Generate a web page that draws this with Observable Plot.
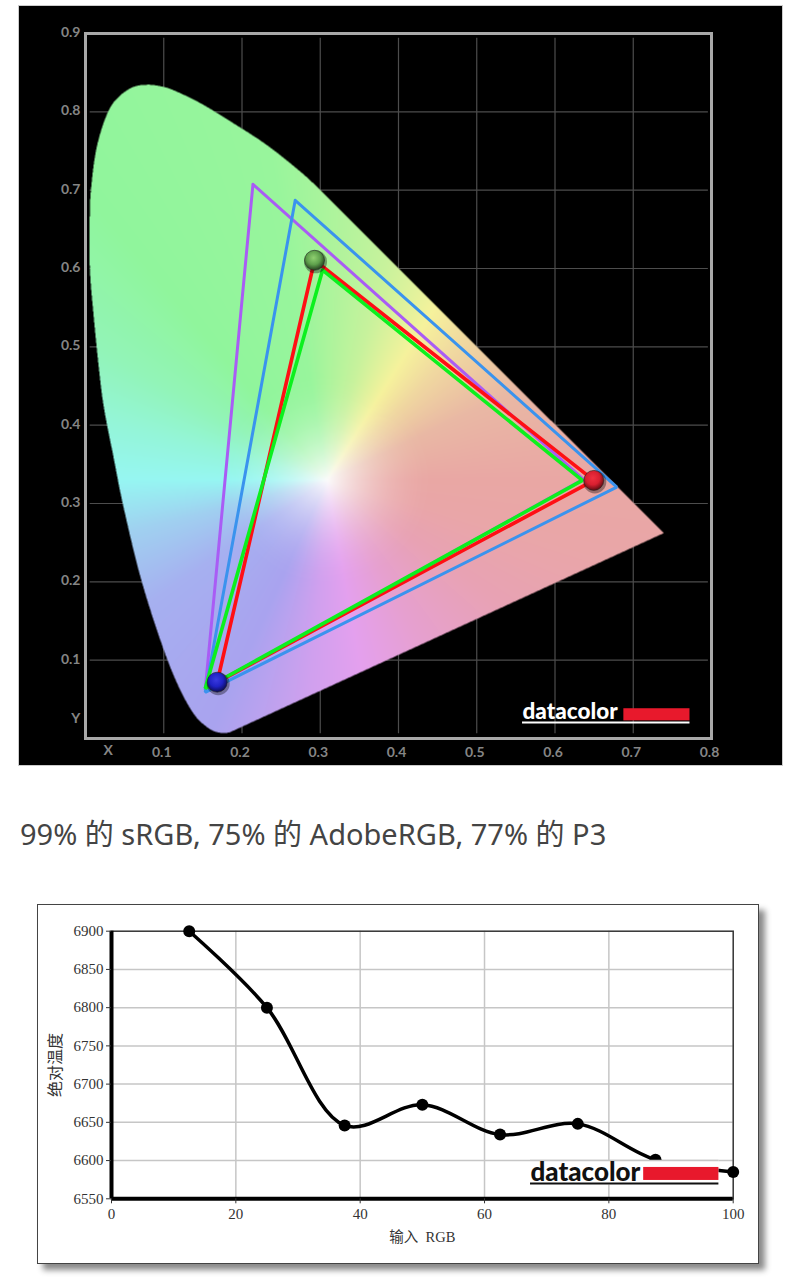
<!DOCTYPE html>
<html><head><meta charset="utf-8">
<script src="https://cdn.jsdelivr.net/npm/d3@7"></script>
<script src="https://cdn.jsdelivr.net/npm/@observablehq/plot@0.6"></script>
<style>
html,body{margin:0;padding:0;background:#fff}
#page{position:relative;width:800px;height:1283px;overflow:hidden}
#panel{position:absolute;left:19px;top:6px;width:763px;height:759px;background:#000;outline:1px solid #ccc}
#panel svg{position:absolute;left:0;top:0;max-width:none}
#caption{position:absolute;left:20px;top:814px;font:29px "Noto Sans","Noto Sans CJK SC",sans-serif;color:#444;white-space:nowrap;line-height:40px}
#card{position:absolute;left:37px;top:904px;width:722px;height:360px;box-sizing:border-box;background:#fff;border:1px solid #444;box-shadow:6px 6px 6px #8a8a8a}
#card svg{position:absolute;left:-1px;top:-1px;max-width:none}
</style></head>
<body><div id="page">
<div id="panel"></div>
<div id="caption">99% 的 sRGB, 75% 的 AdobeRGB, 77% 的 P3</div>
<div id="card"></div>
</div>
<script>
// CIE diagram outline (x, y chromaticity): curved part, then the two straight edges close it
const locusX = [0.3323,0.3003,0.2748,0.2322,0.1891,0.1470,0.1125,0.0958,0.0792,0.0613,0.0447,0.0319,0.0213,0.0128,0.0073,0.0055,0.0055,0.0106,0.0170,0.0234,0.0358,0.0486,0.0703,0.0958,0.1172,0.1380,0.1555,0.1683,0.1811,0.1875];
const locusY = [0.6679,0.6999,0.7235,0.7573,0.7854,0.8110,0.8276,0.8327,0.8346,0.8318,0.8212,0.8059,0.7803,0.7471,0.7037,0.6705,0.6015,0.5377,0.4738,0.4231,0.3593,0.2954,0.2060,0.1252,0.0702,0.0319,0.0144,0.0080,0.0073,0.0093];
const cornerX = 0.7390, cornerY = 0.2622;
const whiteX = 0.309, whiteY = 0.33;
const hueAngles = [0,25,45,58,75,100,130,150,165,180,195,215,245,265,280,300,325,345,360];
const hueColors = ["#e9a7a4","#e9b8a4","#f0d8a0","#f6f29c","#c8f29c","#98f59c","#90f59c","#92f4b8","#94f5d8","#96f6f2","#a0d0f0","#a6b0f0","#a9a3ef","#d0a0ee","#e4a0ee","#e6a0d0","#e8a2b4","#e9a6a8","#e9a7a4"];

const adobeX = [0.214,0.153,0.636], adobeY = [0.7075,0.0620,0.3310];
const p3X = [0.268,0.153,0.679], p3Y = [0.687,0.0590,0.321];
const srgbX = [0.303,0.153,0.635], srgbY = [0.598,0.0638,0.3295];
const measX = [0.2927,0.1683,0.6496], measY = [0.6105,0.0719,0.3295];

const cieTicksX = [0.1,0.2,0.3,0.4,0.5,0.6,0.7,0.8];
const cieTicksY = [0.1,0.2,0.3,0.4,0.5,0.6,0.7,0.8,0.9];
const gridX = [0.1,0.2,0.3,0.4,0.5,0.6,0.7];
const gridY = [0.1,0.2,0.3,0.4,0.5,0.6,0.7,0.8];

// Colour-temperature series
const inputRGB = [12.5,25,37.5,50,62.5,75,87.5,100];
const kelvin = [6900,6800,6646,6673,6634,6648,6601,6585];
const cctTicksX = [0,20,40,60,80,100];
const cctTicksY = [6550,6600,6650,6700,6750,6800,6850,6900];

// Smooth outline for the clip test only (Catmull-Rom through the read points)
function smooth(xs,ys,steps){
  const out=[], n=xs.length, at=(a,i)=>a[Math.max(0,Math.min(n-1,i))];
  for(let i=0;i<n-1;i++)for(let s=0;s<steps;s++){
    const t=s/steps, cr=(a)=>{const p0=at(a,i-1),p1=at(a,i),p2=at(a,i+1),p3=at(a,i+2);
      return 0.5*(2*p1+(p2-p0)*t+(2*p0-5*p1+4*p2-p3)*t*t+(3*p1-p0-3*p2+p3)*t*t*t);};
    out.push([cr(xs),cr(ys)]);
  }
  out.push([xs[n-1],ys[n-1]]);
  return out;
}
const polygon = [...smooth(locusX,locusY,8),[cornerX,cornerY]];
const hueColor = d3.scaleLinear().domain(hueAngles).range(hueColors).interpolate(d3.interpolateRgb);
function chroma(x,y){
  if(x<0||y<0||!d3.polygonContains(polygon,[x,y])) return null;
  const dx=x-whiteX, dy=y-whiteY;
  let a=Math.atan2(dy,dx)*180/Math.PI; if(a<0)a+=360;
  const r=Math.hypot(dx,dy);
  let t=Math.min(1,r/0.14); t=t*(2-t);
  return d3.interpolateRgb("#fbfbfb",hueColor(a))(t);
}
const tri=(X,Y)=>[...X,X[0]].map((x,i)=>({x,y:[...Y,Y[0]][i]}));
const sphere=(id,hi,mid,lo)=>`<radialGradient id="${id}" cx="45%" cy="38%" r="62%"><stop offset="0%" stop-color="${hi}"/><stop offset="55%" stop-color="${mid}"/><stop offset="100%" stop-color="${lo}"/></radialGradient>`;
const defsMark=()=>{const d=document.createElementNS("http://www.w3.org/2000/svg","defs");
  d.innerHTML=sphere("sg","#8fd070","#5ea04c","#24401f")+sphere("sb","#3a3ae0","#1f22c4","#0c0c50")+sphere("sr","#f0303f","#d81f30","#5e0c12");return d;};
const spheres=[{x:measX[0],y:measY[0],f:"url(#sg)"},{x:measX[1],y:measY[1],f:"url(#sb)"},{x:measX[2],y:measY[2],f:"url(#sr)"}];
const tickStyle={tickSize:0,tickFormat:".1f",fontSize:14,fontWeight:"bold",color:"#858585",label:null};

const cie=Plot.plot({
  width:763,height:759,marginLeft:66,marginRight:71,marginTop:27,marginBottom:27,
  x:{domain:[0,0.8],label:null},y:{domain:[0,0.9],label:null},
  color:{type:"identity"},
  style:{background:"#000",fontFamily:"Lato,sans-serif"},
  marks:[
    defsMark,
    Plot.ruleX(gridX,{y1:0.006,y2:0.894,stroke:"#4d4d4d",strokeWidth:1.2}),
    Plot.ruleY(gridY,{x1:0.006,x2:0.796,stroke:"#4d4d4d",strokeWidth:1.2}),
    Plot.raster({fill:chroma,x1:0,x2:0.8,y1:0,y2:0.9,pixelSize:0.5}),
    Plot.frame({stroke:"#a8a8a8",strokeWidth:3}),
    Plot.line(tri(adobeX,adobeY),{x:"x",y:"y",stroke:"#a95cf5",strokeWidth:3,strokeLinejoin:"miter"}),
    Plot.line(tri(p3X,p3Y),{x:"x",y:"y",stroke:"#3a93ee",strokeWidth:3,strokeLinejoin:"miter"}),
    Plot.line(tri(measX,measY),{x:"x",y:"y",stroke:"#ff0f14",strokeWidth:3.6,strokeLinejoin:"miter"}),
    Plot.line(tri(srgbX,srgbY),{x:"x",y:"y",stroke:"#0cf01e",strokeWidth:3.6,strokeLinejoin:"miter"}),
    Plot.dot(spheres,{x:"x",y:"y",dx:1,dy:1.5,r:11.5,fill:"#000",fillOpacity:0.35}),
    Plot.dot(spheres,{x:"x",y:"y",r:10,fill:"f",stroke:"#222",strokeOpacity:0.55,strokeWidth:1}),
    Plot.axisX({...tickStyle,ticks:cieTicksX,tickPadding:6,dx:-2,dy:3}),
    Plot.axisY({...tickStyle,ticks:cieTicksY,tickPadding:5,dy:-1}),
    Plot.text(["X"],{x:0.029,y:0,dy:12,fontSize:14,fontWeight:"bold",fill:"#858585"}),
    Plot.text(["Y"],{x:-0.0125,y:0.0255,fontSize:14,fontWeight:"bold",fill:"#858585"}),
    Plot.text(["datacolor"],{x:0.5585,y:0.0335,textAnchor:"start",fontSize:22.5,fontWeight:900,fontFamily:"Lato,sans-serif",fill:"#fff"}),
    Plot.rect([0],{x1:0.688,x2:0.7725,y1:0.0225,y2:0.038,fill:"#e8192c"}),
    Plot.ruleY([0.0205],{x1:0.5585,x2:0.7725,stroke:"#fff",strokeWidth:2})
  ]
});
document.getElementById("panel").append(cie);

const mixed='"Liberation Serif","Noto Sans CJK SC",serif';
const rows=inputRGB.map((x,i)=>({x,y:kelvin[i]}));
const cct=Plot.plot({
  width:722,height:360,marginLeft:74,marginRight:26.3,marginTop:26.7,marginBottom:65.7,
  x:{domain:[0,100],label:null},y:{domain:[6550,6900],label:null},
  style:{background:"transparent",fontFamily:mixed},
  marks:[
    Plot.ruleX(cctTicksX.slice(1,-1),{stroke:"#c6c6c6",strokeWidth:1.5}),
    Plot.ruleY(cctTicksY.slice(1,-1),{stroke:"#c6c6c6",strokeWidth:1.5}),
    Plot.frame({stroke:"#333",strokeWidth:1.5}),
    Plot.ruleX([0],{stroke:"#000",strokeWidth:4}),
    Plot.ruleY([6550],{stroke:"#000",strokeWidth:4}),
    Plot.line(rows,{x:"x",y:"y",curve:"catmull-rom",stroke:"#000",strokeWidth:3.5}),
    Plot.dot(rows,{x:"x",y:"y",r:6,fill:"#000"}),
    Plot.rect([0],{x1:67.4,x2:97.7,y1:6568,y2:6600,fill:"#fff"}),
    Plot.ruleY([6600],{x1:67.4,x2:97.7,stroke:"#c6c6c6",strokeWidth:1.5}),
    Plot.text(["datacolor"],{x:67.4,y:6584,textAnchor:"start",fontSize:26,fontWeight:900,fontFamily:"Lato,sans-serif",fill:"#111"}),
    Plot.rect([0],{x1:85.6,x2:97.7,y1:6574,y2:6591,fill:"#e8192c"}),
    Plot.ruleY([6570],{x1:67.4,x2:97.7,stroke:"#111",strokeWidth:2}),
    Plot.axisX({ticks:cctTicksX,tickSize:5,tickPadding:5,tickFormat:"d",fontSize:15,color:"#333",label:null}),
    Plot.axisY({ticks:cctTicksY,tickSize:5,tickPadding:3,tickFormat:"d",fontSize:15,color:"#333",label:null}),
    Plot.text(["输入\u00a0\u00a0RGB"],{x:50,y:6550,dy:39,fontSize:14.5,fill:"#333"}),
    Plot.text(["绝对温度"],{x:0,y:6725,dx:-56,rotate:-90,fontSize:16,fill:"#333"})
  ]
});
document.getElementById("card").append(cct);
</script>
</body></html>
